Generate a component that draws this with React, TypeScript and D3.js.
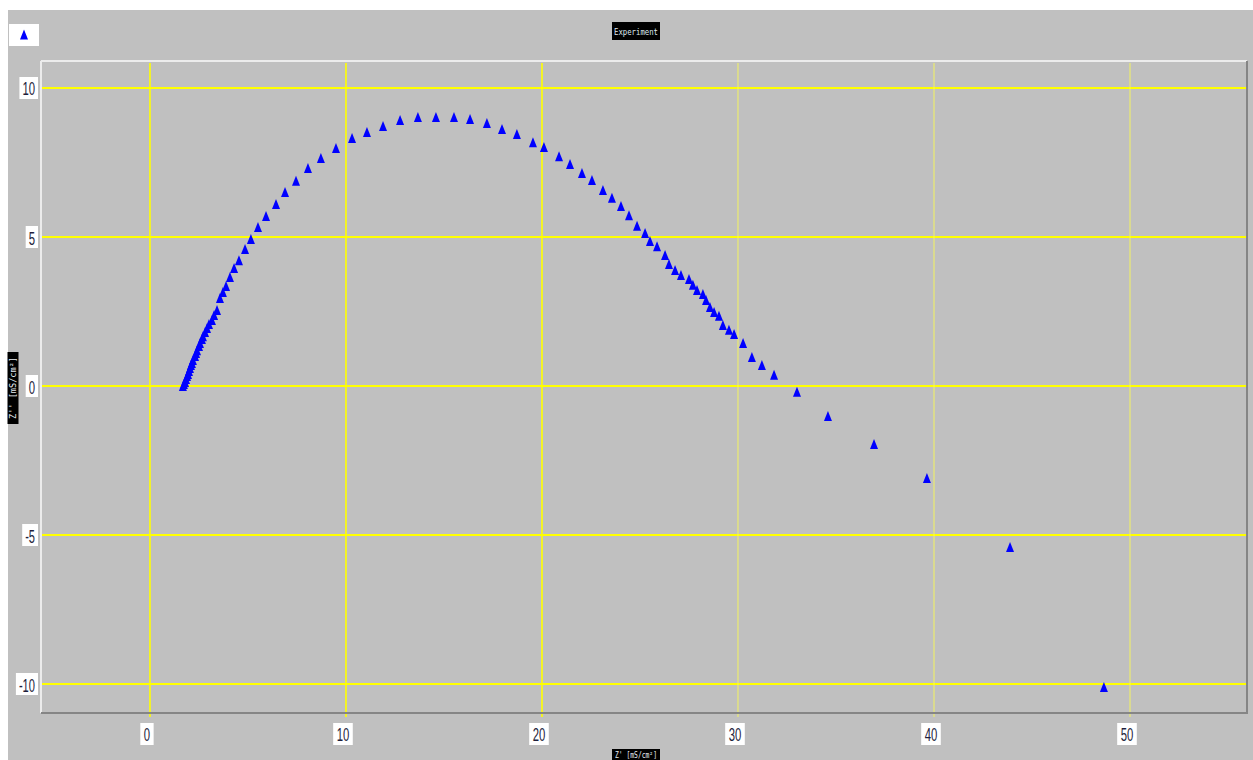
import React from 'react';
import * as d3 from 'd3';

// Nyquist-style scatter, "Experiment" series (Z' vs Z'')
const ZRE = [
  1.68, 1.73, 1.79, 1.84, 1.89, 1.94, 1.99, 2.04, 2.09, 2.14, 2.19, 2.30, 2.35, 2.40, 2.50, 2.55,
  2.65, 2.70, 2.81, 2.91, 3.01, 3.16, 3.27, 3.42, 3.57, 3.72, 3.88, 4.08, 4.29, 4.54, 4.85, 5.15,
  5.51, 5.92, 6.43, 6.89, 7.45, 8.06, 8.72, 9.49, 10.31, 11.07, 11.89, 12.76, 13.67, 14.59, 15.51,
  16.33, 17.19, 17.96, 18.72, 19.54, 20.10, 20.87, 21.43, 22.04, 22.55, 23.11, 23.57, 24.03, 24.44,
  24.85, 25.26, 25.51, 25.87, 26.28, 26.48, 26.79, 27.09, 27.50, 27.70, 27.91, 28.21, 28.37, 28.57,
  28.78, 29.03, 29.23, 29.54, 29.80, 30.26, 30.71, 31.22, 31.84, 33.01, 34.59, 36.94, 39.64, 43.88,
  48.67,
];
const ZIM = [
  -0.03, 0.03, 0.10, 0.20, 0.30, 0.37, 0.47, 0.57, 0.67, 0.74, 0.84, 0.97, 1.07, 1.17, 1.31, 1.41,
  1.54, 1.64, 1.78, 1.91, 2.05, 2.18, 2.35, 2.52, 2.92, 3.12, 3.32, 3.62, 3.93, 4.19, 4.56, 4.90,
  5.30, 5.67, 6.07, 6.48, 6.85, 7.28, 7.62, 7.95, 8.29, 8.49, 8.69, 8.89, 8.99, 8.99, 8.99,
  8.93, 8.79, 8.59, 8.42, 8.15, 7.99, 7.68, 7.42, 7.11, 6.88, 6.54, 6.28, 6.01, 5.70,
  5.34, 5.10, 4.83, 4.66, 4.36, 4.06, 3.86, 3.69, 3.56, 3.36, 3.19, 3.05, 2.85, 2.62,
  2.45, 2.32, 2.01, 1.85, 1.71, 1.41, 0.94, 0.67, 0.34, -0.23, -1.04, -1.98, -3.12, -5.44,
  -10.13,
];
const X_TICKS = [0, 10, 20, 30, 40, 50];
const Y_TICKS = [10, 5, 0, -5, -10];

const TITLE = 'Experiment';
const X_LABEL = "Z' [mS/cm²]";
const Y_LABEL = "Z'' [mS/cm²]";

const W = 1253;
const H = 760;
const plot = { left: 41, right: 1247, top: 61, bottom: 713 };
const tri = 'M0,-5.5L4,4.5L-4,4.5Z';
const tickFont = "'Liberation Sans Narrow', 'Liberation Sans', Arial, sans-serif";
const monoFont = "'DejaVu Sans Mono', 'Liberation Mono', monospace";

const labelWidth = (s: string) => s.replace('-', '').length * 6.3 + (s.startsWith('-') ? 3.5 : 0);

export default function App() {
  const x = d3.scaleLinear().domain([-5.56, 55.97]).range([plot.left, plot.right]);
  const y = d3.scaleLinear().domain([10.906, -10.973]).range([plot.top, plot.bottom]);
  const points = ZRE.map((v, i) => ({ re: v, im: ZIM[i] }));

  return (
    <div style={{ position: 'absolute', left: 0, top: 0 }}>
      <svg width={W} height={H} style={{ display: 'block' }}>
        <rect x={0} y={0} width={W} height={H} fill="#ffffff" />
        <rect x={8} y={10} width={W - 8} height={H - 10} fill="#c0c0c0" />

        {/* legend */}
        <rect x={9} y={24} width={30} height={22} fill="#ffffff" />
        <path d={tri} transform="translate(24,35)" fill="#0000ff" />

        {/* title */}
        <rect x={612} y={22} width={48} height={18} fill="#000000" />
        <text x={636} y={34.5} textAnchor="middle" fontFamily={monoFont} fontSize={8.5}
          fill="#dfe8f0" textLength={44} lengthAdjust="spacingAndGlyphs">{TITLE}</text>

        {/* grid */}
        {Y_TICKS.map(t => (
          <line key={'gy' + t} x1={plot.left} x2={plot.right} y1={y(t)} y2={y(t)}
            stroke="#ffff00" strokeWidth={2} />
        ))}
        {X_TICKS.map(t => (
          <line key={'gx' + t} x1={x(t)} x2={x(t)} y1={plot.top + 2} y2={plot.bottom + 4}
            stroke={t <= 20 ? '#ffff00' : '#f4f460'} strokeWidth={t <= 20 ? 1.6 : 1} />
        ))}

        {/* frame */}
        <line x1={plot.left} x2={plot.right} y1={plot.top} y2={plot.top} stroke="#ececec" strokeWidth={2} />
        <line x1={plot.left} x2={plot.left} y1={plot.top} y2={plot.bottom} stroke="#ececec" strokeWidth={2} />
        <line x1={plot.left} x2={plot.right + 1} y1={plot.bottom} y2={plot.bottom} stroke="#858585" strokeWidth={2} />
        <line x1={plot.right} x2={plot.right} y1={plot.top} y2={plot.bottom} stroke="#858585" strokeWidth={2} />

        {/* data */}
        {points.map((p, i) => (
          <path key={i} d={tri} transform={`translate(${x(p.re)},${y(p.im) - 0.5})`} fill="#0000ff" />
        ))}

        {/* y tick labels */}
        {Y_TICKS.map(t => {
          const s = String(t);
          const w = labelWidth(s);
          return (
            <g key={'ly' + t}>
              <rect x={38 - w - 6} y={y(t) - 11} width={w + 6} height={22} fill="#ffffff" />
              <text x={38 - 3 - w / 2} y={y(t) + 7.5} textAnchor="middle" fontFamily={tickFont}
                fontSize={19} fill="#1e1e3c" textLength={w} lengthAdjust="spacingAndGlyphs">{s}</text>
            </g>
          );
        })}

        {/* x tick labels */}
        {X_TICKS.map(t => {
          const s = String(t);
          const w = labelWidth(s);
          const cx = x(t) - 3;
          return (
            <g key={'lx' + t}>
              <rect x={cx - w / 2 - 3.5} y={723} width={w + 7} height={22} fill="#ffffff" />
              <text x={cx} y={741} textAnchor="middle" fontFamily={tickFont}
                fontSize={19} fill="#1e1e3c" textLength={w} lengthAdjust="spacingAndGlyphs">{s}</text>
            </g>
          );
        })}

        {/* axis titles */}
        <rect x={612} y={749} width={48} height={14} fill="#000000" />
        <text x={636} y={758} textAnchor="middle" fontFamily={monoFont} fontSize={8}
          fill="#e8eef4" textLength={42} lengthAdjust="spacingAndGlyphs">{X_LABEL}</text>

        <g transform="translate(13,388) rotate(-90)">
          <rect x={-36} y={-5.5} width={72} height={11} fill="#000000" />
          <text x={0} y={3} textAnchor="middle" fontFamily={monoFont} fontSize={8}
            fill="#e8eef4" textLength={62} lengthAdjust="spacingAndGlyphs">{Y_LABEL}</text>
        </g>
      </svg>
    </div>
  );
}
